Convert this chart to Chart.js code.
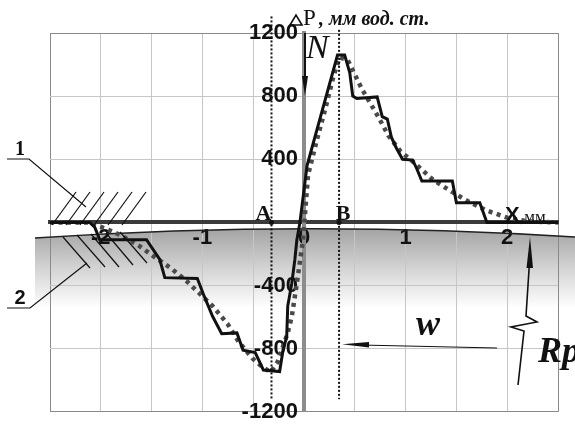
<!DOCTYPE html>
<html>
<head>
<meta charset="utf-8">
<script src="https://cdn.jsdelivr.net/npm/chart.js@4.4.1/dist/chart.umd.min.js"></script>
<style>
  html, body { margin: 0; padding: 0; background: #fff; }
  #wrap { width: 575px; height: 428px; }
</style>
</head>
<body>
<div id="wrap"><canvas id="chart"></canvas></div>
<script>
// measured step profile (solid line), x in mm, y in mm water column
const stepX = [-2.5, -2.11, -2.06, -2.01, -1.55, -1.42, -1.37, -1.05, -0.99, -0.90, -0.81, -0.66, -0.60, -0.48, -0.40, -0.24, -0.21, -0.17, -0.16, -0.12, -0.09, -0.07, -0.04,
  0.03, 0.33, 0.40, 0.45, 0.48, 0.52, 0.72, 0.77, 0.82, 0.86, 0.91, 0.97, 1.07, 1.11, 1.16, 1.46, 1.50, 1.73, 1.80, 2.5];
const stepY = [0, 0, -30, -110, -110, -235, -350, -355, -455, -595, -705, -700, -810, -825, -935, -945, -825, -720, -530, -385, -235, -110, 0,
  360, 1060, 1060, 950, 800, 785, 795, 670, 655, 540, 470, 400, 395, 340, 262, 262, 125, 125, 0, 0];
// smoothed profile (dotted line)
const dotX = [-2.5, -2.12, -1.95, -1.81, -1.63, -1.47, -1.30, -1.15, -0.90, -0.75, -0.65, -0.51, -0.43, -0.33, -0.26, -0.16, -0.12, -0.07, -0.01,
  0.04, 0.13, 0.21, 0.29, 0.35, 0.43, 0.57, 0.73, 0.83, 0.95, 1.09, 1.27, 1.44, 1.61, 1.80, 2.0, 2.22, 2.5];
const dotY = [0, 0, -40, -80, -145, -220, -295, -375, -530, -645, -750, -860, -905, -950, -885, -700, -595, -385, -110,
  300, 530, 720, 925, 1045, 1030, 845, 670, 550, 450, 375, 270, 200, 135, 75, 30, 5, 0];
const xTicks = [-2, -1, 0, 1, 2];
const yTicks = [-1200, -800, -400, 400, 800, 1200];
const markX = [-0.32, 0.345];
const markNames = ['A', 'B'];
const markTop = [1305, 1220];
const markBottom = -1120;

const toPts = (xs, ys) => xs.map((x, i) => ({ x: x, y: ys[i] }));

function arrowHead(ctx, tip, b1, b2) {
  ctx.beginPath();
  ctx.moveTo(tip[0], tip[1]);
  ctx.lineTo(b1[0], b1[1]);
  ctx.lineTo(b2[0], b2[1]);
  ctx.closePath();
  ctx.fill();
}

function polyline(ctx, pts) {
  ctx.beginPath();
  ctx.moveTo(pts[0][0], pts[0][1]);
  for (let i = 1; i < pts.length; i++) ctx.lineTo(pts[i][0], pts[i][1]);
  ctx.stroke();
}

const surface = {
  id: 'surface',
  beforeDraw(chart) {
    const ctx = chart.ctx;
    ctx.save();
    const g = ctx.createLinearGradient(0, 226, 0, 308);
    g.addColorStop(0, '#a0a0a0');
    g.addColorStop(0.5, '#d2d2d2');
    g.addColorStop(1, '#ffffff');
    ctx.beginPath();
    ctx.moveTo(35, 238);
    ctx.quadraticCurveTo(305, 220, 575, 237);
    ctx.lineTo(575, 310);
    ctx.lineTo(35, 310);
    ctx.closePath();
    ctx.fillStyle = g;
    ctx.fill();
    ctx.restore();
  },
  beforeDatasetsDraw(chart) {
    const ctx = chart.ctx;
    ctx.save();
    ctx.strokeStyle = '#222';
    ctx.lineWidth = 1.3;
    ctx.beginPath();
    ctx.moveTo(35, 238);
    ctx.quadraticCurveTo(305, 220, 575, 237);
    ctx.stroke();
    ctx.restore();
  },
  afterDatasetsDraw(chart) {
    const ctx = chart.ctx;
    const xs = chart.scales.x, ys = chart.scales.y;
    const y0 = ys.getPixelForValue(0);
    ctx.save();

    // dotted verticals A, B
    ctx.strokeStyle = '#111';
    ctx.lineWidth = 2;
    ctx.setLineDash([2, 2]);
    markX.forEach((m, i) => {
      const px = xs.getPixelForValue(m);
      ctx.beginPath();
      ctx.moveTo(px, ys.getPixelForValue(markTop[i]));
      ctx.lineTo(px, ys.getPixelForValue(markBottom));
      ctx.stroke();
    });
    ctx.setLineDash([]);
    ctx.fillStyle = '#111';
    markX.forEach((m) => {
      ctx.beginPath();
      ctx.arc(xs.getPixelForValue(m), y0, 2.5, 0, Math.PI * 2);
      ctx.fill();
    });
    ctx.font = "bold 22px 'Liberation Serif'";
    ctx.textAlign = 'center';
    ctx.textBaseline = 'alphabetic';
    ctx.fillText(markNames[0], xs.getPixelForValue(markX[0]) - 8, 220);
    ctx.fillText(markNames[1], xs.getPixelForValue(markX[1]) + 4, 220);

    // hatching
    ctx.strokeStyle = '#111';
    ctx.lineWidth = 1.2;
    [52, 66, 80, 94, 108, 122].forEach((x) => polyline(ctx, [[x, 225], [x + 24, 192]]));
    [[63, 237, 90, 268], [77, 235, 105, 267], [91, 234, 119, 267], [106, 233, 133, 265], [120, 232, 147, 263]]
      .forEach((l) => polyline(ctx, [[l[0], l[1]], [l[2], l[3]]]));

    // leaders 1 and 2
    polyline(ctx, [[7, 159], [29, 159], [86, 207]]);
    polyline(ctx, [[7, 308], [30, 308], [87, 263]]);
    ctx.font = "bold 20px 'Liberation Serif'";
    ctx.fillText('1', 20, 155);
    ctx.font = "bold 20px 'Liberation Sans'";
    ctx.fillText('2', 20, 304);

    // N arrow
    ctx.lineWidth = 2;
    polyline(ctx, [[305, 33], [305, 80]]);
    arrowHead(ctx, [305, 96], [302, 76], [308, 76]);
    ctx.font = "italic 34px 'Liberation Serif'";
    ctx.textAlign = 'left';
    ctx.fillText('N', 306, 58);

    // w arrow
    ctx.lineWidth = 1.2;
    polyline(ctx, [[497, 348], [360, 345]]);
    arrowHead(ctx, [342, 344.3], [369, 342], [369, 347.5]);
    ctx.font = "bold italic 36px 'Liberation Serif'";
    ctx.textAlign = 'center';
    ctx.fillText('w', 428, 335);

    // Rp arrow
    ctx.lineWidth = 1.6;
    polyline(ctx, [[518, 385], [524, 331], [511, 327], [537, 322], [526, 316], [529.5, 262]]);
    arrowHead(ctx, [530, 237], [526.5, 268], [533, 268]);
    ctx.textAlign = 'left';
    ctx.fillText('Rp', 538, 362);

    // axis titles (delta drawn as an outlined triangle)
    ctx.lineWidth = 1.6;
    ctx.beginPath();
    ctx.moveTo(290, 25);
    ctx.lineTo(302, 25);
    ctx.lineTo(296, 15);
    ctx.closePath();
    ctx.stroke();
    ctx.font = "23px 'Liberation Serif'";
    ctx.fillText('P', 303, 25);
    ctx.font = "bold italic 20px 'Liberation Serif'";
    ctx.fillText(', мм вод. ст.', 319, 25);
    ctx.font = "bold 22px 'Liberation Sans'";
    ctx.fillText('X', 505, 222);
    ctx.font = "17px 'Liberation Serif'";
    ctx.fillText(',мм', 520, 222);
    ctx.restore();
  }
};

const tickFont = { family: "'Liberation Sans', Arial, sans-serif", size: 22, weight: 'bold' };
const edgeGrid = (edge) => (c) => (c.index === 0 || c.index === c.chart.scales[edge].ticks.length - 1) ? '#8a8a8a' : '#c6c6c6';

new Chart(document.getElementById('chart'), {
  type: 'line',
  data: {
    datasets: [
      {
        label: 'step',
        data: toPts(stepX, stepY),
        borderColor: '#111',
        borderWidth: 3,
        pointRadius: 0,
        tension: 0,
      },
      {
        label: 'smooth',
        data: toPts(dotX, dotY),
        borderColor: '#4a4a4a',
        borderWidth: 4.5,
        borderDash: [4, 4.5],
        borderCapStyle: 'butt',
        pointRadius: 0,
        tension: 0,
      },
    ],
  },
  options: {
    responsive: true,
    maintainAspectRatio: false,
    animation: false,
    layout: { padding: { left: 50, right: 17, top: 33, bottom: 10 } },
    plugins: { legend: { display: false }, tooltip: { enabled: false }, title: { display: false } },
    scales: {
      x: {
        type: 'linear',
        min: -2.5,
        max: 2.5,
        position: { y: 0 },
        border: { color: '#3a3a3a', width: 4 },
        grid: { color: edgeGrid('x'), lineWidth: 1, drawTicks: false },
        ticks: {
          stepSize: 0.5,
          padding: 2,
          color: '#111',
          font: tickFont,
          maxRotation: 0,
          autoSkip: false,
          callback: (v) => (Math.abs(v - Math.round(v)) < 1e-9 && xTicks.includes(Math.round(v))) ? String(Math.round(v)) : '',
        },
      },
      y: {
        type: 'linear',
        min: -1200,
        max: 1200,
        position: { x: 0 },
        border: { color: '#8c8c8c', width: 4 },
        grid: { color: edgeGrid('y'), lineWidth: 1, drawTicks: false },
        ticks: {
          stepSize: 400,
          color: '#111',
          font: tickFont,
          autoSkip: false,
          callback: (v) => yTicks.includes(v) ? v + ' ' : '',
        },
      },
    },
  },
  plugins: [surface],
});
</script>
</body>
</html>
